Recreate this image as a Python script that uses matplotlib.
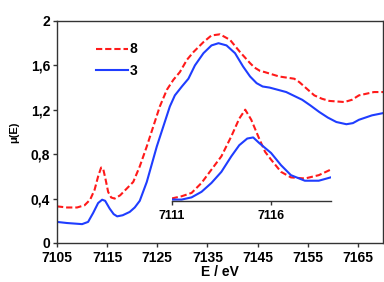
import numpy as np
import matplotlib
matplotlib.use("Agg")
import matplotlib.pyplot as plt
from matplotlib.font_manager import FontProperties

plt.rcParams['font.family'] = ['Liberation Sans', 'DejaVu Sans']
plt.rcParams['font.weight'] = 'bold'

# main spectra, sample 8 (red dashed) and sample 3 (blue)
e8 = [7105, 7107, 7109, 7110.5, 7111.6, 7112.5, 7113.2, 7113.8, 7114.2, 7114.7,
      7115.2, 7115.8, 7116.5, 7117.6, 7120.2, 7121.5, 7122.9, 7124.2, 7125.5, 7126.9,
      7128.2, 7129.5, 7130.9, 7132.2, 7134.2, 7135.8, 7137.5, 7139.5, 7141.5, 7143.5,
      7144.4, 7145.5, 7146.4, 7149.3, 7150.8, 7152.3, 7153.3, 7154.3, 7156.3, 7157.8,
      7159.3, 7162.3, 7163.8, 7165.2, 7168.2, 7170]
mu8 = [0.33, 0.32, 0.32, 0.34, 0.39, 0.48, 0.60, 0.68, 0.67, 0.57,
       0.46, 0.41, 0.40, 0.43, 0.55, 0.69, 0.87, 1.05, 1.23, 1.38,
       1.47, 1.54, 1.65, 1.72, 1.81, 1.87, 1.88, 1.83, 1.72, 1.62,
       1.58, 1.55, 1.54, 1.50, 1.49, 1.48, 1.45, 1.41, 1.33, 1.30,
       1.28, 1.27, 1.29, 1.33, 1.36, 1.36]

e3 = [7105, 7107, 7110, 7111.2, 7112.2, 7113.2, 7114.0, 7114.6, 7115.5, 7116.3,
      7117.0, 7118.1, 7119.5, 7120.5, 7121.5, 7122.9, 7124.9, 7126.2, 7127.5, 7128.5,
      7129.9, 7131.2, 7132.5, 7134.2, 7135.8, 7137.2, 7138.8, 7140.5, 7142.1, 7143.5,
      7144.8, 7146.0, 7147.4, 7150.7, 7153.9, 7155.5, 7157.3, 7159.0, 7160.7, 7162.7,
      7164.0, 7165.2, 7167.8, 7170]
mu3 = [0.19, 0.18, 0.17, 0.19, 0.27, 0.36, 0.39, 0.38, 0.31, 0.26,
       0.24, 0.25, 0.28, 0.32, 0.38, 0.55, 0.87, 1.05, 1.23, 1.33,
       1.41, 1.48, 1.60, 1.71, 1.78, 1.80, 1.78, 1.71, 1.59, 1.50,
       1.44, 1.41, 1.40, 1.36, 1.29, 1.24, 1.18, 1.13, 1.09, 1.07,
       1.08, 1.11, 1.15, 1.17]

# pre-edge inset
ie8 = [7111.0, 7111.5, 7112.0, 7112.5, 7113.0, 7113.5, 7114.0, 7114.4, 7114.7, 7115.0,
       7115.4, 7115.7, 7116.0, 7116.5, 7117.0, 7117.7, 7118.4, 7119.0]
imu8 = [0.02, 0.04, 0.07, 0.16, 0.28, 0.40, 0.58, 0.74, 0.82, 0.73,
        0.56, 0.44, 0.37, 0.26, 0.21, 0.20, 0.23, 0.28]
ie3 = [7111.0, 7111.5, 7112.0, 7112.5, 7113.0, 7113.5, 7114.0, 7114.4, 7114.8, 7115.1,
       7115.4, 7116.0, 7116.5, 7117.0, 7117.7, 7118.4, 7119.0]
imu3 = [0.01, 0.01, 0.03, 0.08, 0.16, 0.26, 0.40, 0.50, 0.56, 0.57,
        0.52, 0.43, 0.32, 0.23, 0.18, 0.18, 0.21]

xticks = [7105, 7115, 7125, 7135, 7145, 7155, 7165]
yticks = [0, 0.4, 0.8, 1.2, 1.6, 2]
ylabels = ['0', '0,4', '0,8', '1,2', '1,6', '2']
itick = [7111, 7116]

red = '#ff1a1a'
blue = '#1f3dff'
spine_c = '#333333'

bold10 = FontProperties(family='Liberation Sans', weight='bold', size=10)
bold9 = FontProperties(family='Liberation Sans', weight='bold', size=9)
bold8 = FontProperties(family='Liberation Sans', weight='bold', size=8)

fig = plt.figure(figsize=(3.84, 2.82), dpi=100)
ax = fig.add_axes([57/384, 1 - 243/282, 326/384, 222/282])

ax.plot(e8, mu8, color=red, lw=1.5, ls=(0, (3, 1.4)), label='8')
ax.plot(e3, mu3, color=blue, lw=1.5, label='3')

ax.set_xlim(7105, 7170)
ax.set_ylim(0, 2)
ax.set_xticks(xticks)
ax.set_xticklabels([str(t) for t in xticks], fontproperties=bold10)
ax.set_yticks(yticks)
ax.set_yticklabels(ylabels, fontproperties=bold10)
ax.tick_params(direction='out', length=3, width=1, color=spine_c, pad=2)
ax.tick_params(axis='x', pad=3)
for s in ax.spines.values():
    s.set_color(spine_c)
    s.set_linewidth(1)

ax.set_xlabel('E / eV', fontproperties=bold10, labelpad=0)
ax.set_ylabel('μ(E)', fontproperties=bold8, labelpad=8)

leg = ax.legend(loc='upper left', bbox_to_anchor=(0.08, 0.96), frameon=False,
                handlelength=2.3, handletextpad=0.15, labelspacing=0.55,
                prop=bold10)

# inset
ins = fig.add_axes([171.7/384, 1 - 200.7/282, 159/384, 111/282])
ins.patch.set_alpha(0)
ins.plot(ie8, imu8, color=red, lw=1.5, ls=(0, (3, 1.4)))
ins.plot(ie3, imu3, color=blue, lw=1.5)
ins.set_xlim(7111, 7119)
ins.set_ylim(0, 1)
ins.set_xticks(itick)
ins.set_xticklabels([str(t) for t in itick], fontproperties=bold9)
ins.set_yticks([])
for k in ['top', 'right', 'left']:
    ins.spines[k].set_visible(False)
ins.spines['bottom'].set_color(spine_c)
ins.spines['bottom'].set_linewidth(1)
ins.tick_params(direction='out', length=3, width=1, color=spine_c, pad=4)

fig.savefig('out.png', dpi=100)
